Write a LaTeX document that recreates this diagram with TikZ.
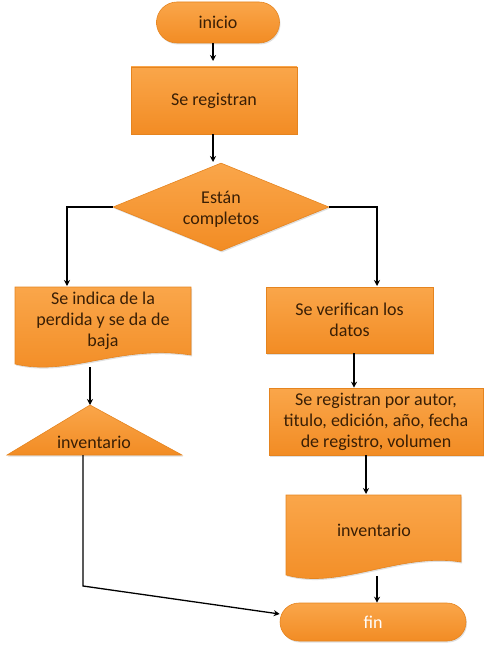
\documentclass[tikz,border=0pt]{standalone}
\usepackage{fontspec}
\setmainfont{Carlito}
\usetikzlibrary{shapes.geometric,shapes.misc,arrows.meta,shadows}
\definecolor{otop}{HTML}{FAA64A}
\definecolor{obot}{HTML}{F28C24}
\definecolor{oedge}{HTML}{E5841F}
\definecolor{txt}{HTML}{3A1F05}
\tikzset{
  box/.style={top color=otop,bottom color=obot,draw=oedge,line width=0.6pt,
    drop shadow={opacity=0.25,shadow xshift=1pt,shadow yshift=-1.5pt}},
  lbl/.style={text=txt,font=\fontsize{18}{21}\selectfont,align=center,inner sep=0pt},
  arr/.style={-{Stealth[length=6pt,width=6pt]},line width=1.3pt,black},
  ln/.style={line width=1.3pt,black}
}
\begin{document}
\begin{tikzpicture}[x=1pt,y=-1pt]
\useasboundingbox (0,0) rectangle (488,647);
% inicio
\node[box,rounded rectangle,minimum width=123pt,minimum height=41pt,inner sep=0pt] (ini) at (218,22.5) {};
\node[lbl] (tini) at (ini) {inicio};
% Se registran
\node[box,rectangle,minimum width=166pt,minimum height=67pt] (reg) at (214,100.5) {};
\node[lbl] (treg) at (reg) {Se registran};
% diamond
\node[box,diamond,minimum width=216pt,minimum height=88pt,inner sep=0pt,aspect=2.45] (dia) at (221,207) {};
\node[lbl] (tdia) at (221,209) {Están\\completos};
% left document
\path[box] (15,287) -- (191,287) -- (191,355) .. controls (120,344) and (70,377) .. (15,364) -- cycle;
\node[lbl] (doc1) at (103,321) {Se indica de la\\perdida y se da de\\baja};
\coordinate (doc1b) at (90,367);
% triangle
\path[box] (90,405) -- (182,455) -- (7,455) -- cycle;
\node[lbl] (tri) at (94,442) {inventario};
\coordinate (triT) at (90,405);
\coordinate (triB) at (83,455);
\coordinate (bend) at (83,586);
% right branch
\node[box,rectangle,minimum width=167pt,minimum height=66pt] (ver) at (349.5,320) {};
\node[lbl] (tver) at (ver) {Se verifican los\\datos};
\node[box,rectangle,minimum width=214pt,minimum height=67pt] (reg2) at (376,421.5) {};
\node[lbl] (treg2) at (reg2) {Se registran por autor,\\titulo, edición, año, fecha\\de registro, volumen};
\path[box] (286,495) -- (461,495) -- (461,562) .. controls (400,552) and (340,590) .. (286,575) -- cycle;
\node[lbl] (doc2) at (374,530) {inventario};
% fin
\node[box,rounded rectangle,minimum width=186pt,minimum height=38pt,inner sep=0pt] (fin) at (373,622) {};
\node[lbl,text=white] (tfin) at (fin) {fin};
% branch corner coordinates
\coordinate (l1) at (67,286);
\coordinate (r1) at (377,286);
% connectors
\draw[arr] (ini.south -| 213,0) -- (213,61);
\draw[arr] (reg.south -| 213,0) -- (213,162);
\draw[ln] (dia.west) -| (67,250);
\draw[arr] (67,240) -- (l1);
\draw[ln] (dia.east) -| (377,250);
\draw[arr] (377,240) -- (r1);
\draw[arr] (doc1b) -- (triT);
\draw[arr] (triB) -- (bend) -- (fin.west |- 0,614);
\draw[arr] (ver.south -| 354,0) -- (reg2.north -| 354,0);
\draw[arr] (reg2.south -| 366,0) -- (366,494);
\draw[arr] (377,576) -- (fin.north -| 377,0);
\end{tikzpicture}
\end{document}
